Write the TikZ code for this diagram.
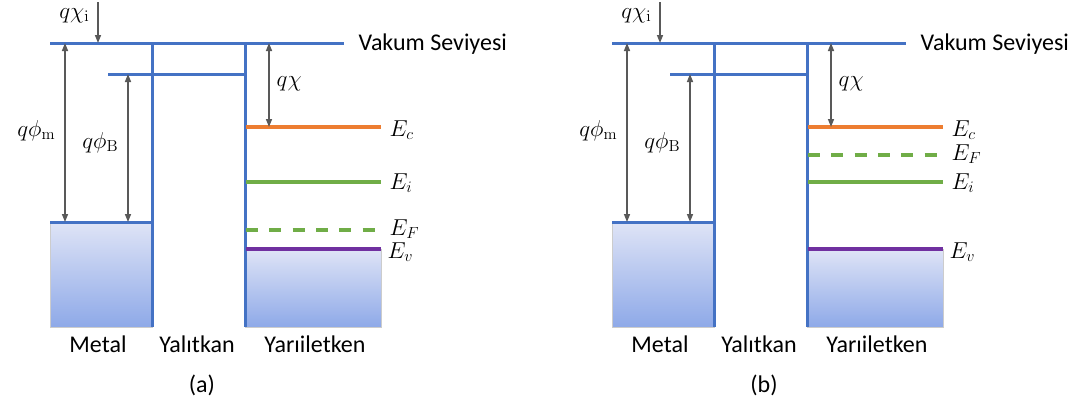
\documentclass[tikz,border=0pt]{standalone}
\usepackage[no-math]{fontspec}
\setmainfont{Carlito}
\usepackage{tikz}
\usetikzlibrary{arrows.meta}
\definecolor{bantmavi}{HTML}{4472C4}
\definecolor{bantturuncu}{HTML}{ED7D31}
\definecolor{bantyesil}{HTML}{70AD47}
\definecolor{bantmor}{HTML}{7030A0}
\definecolor{okgri}{HTML}{595959}
\definecolor{dolguust}{HTML}{DFE4F6}
\definecolor{dolgualt}{HTML}{8EA9E8}

\begin{document}
\begin{tikzpicture}[
    x=0.75pt, y=-0.75pt,
    font=\fontsize{18}{21}\selectfont,
    seviye/.style={line width=2.25pt, bantmavi},
    bant/.style={line width=2.4pt},
    ok/.style={{Triangle[length=6pt,width=4.5pt]}-{Triangle[length=6pt,width=4.5pt]},
               line width=1.1pt, okgri},
    tekok/.style={-{Triangle[length=6pt,width=4.5pt]}, line width=1.1pt, okgri},
    kutu/.style={draw=gray!40, line width=0.6pt, top color=dolguust, bottom color=dolgualt}
  ]
    \useasboundingbox (0,0) rectangle (1081,408);
    \foreach \dx/\ef/\p in {0/230/a, 562/155/b}{
      % dolu bantlar
      \path[kutu] (\dx+50,222) rectangle (\dx+152,327);
      \path[kutu] (\dx+245,249) rectangle (\dx+381,327);
      % vakum, yalitkan ve metal seviyeleri
      \draw[seviye] (\dx+50,43) -- (\dx+344,43);
      \draw[seviye] (\dx+152,43) -- (\dx+152,327);
      \draw[seviye] (\dx+245,43) -- (\dx+245,327);
      \draw[seviye] (\dx+108,74) -- (\dx+245,74);
      \draw[seviye] (\dx+50,222) -- (\dx+152,222);
      % yariiletken seviyeleri
      \draw[bant, bantturuncu] (\dx+246,127) -- (\dx+381,127);
      \draw[bant, bantyesil] (\dx+246,182) -- (\dx+381,182);
      \draw[bant, bantyesil, dash pattern=on 9pt off 8.5pt] (\dx+246,\ef) -- (\dx+376,\ef);
      \draw[bant, bantmor] (\dx+246,249) -- (\dx+381,249);

      \coordinate (\p-xit) at (\dx+98,2);
      \coordinate (\p-xia) at (\dx+98,43);
      \coordinate (\p-fmt) at (\dx+65,43);
      \coordinate (\p-fma) at (\dx+65,222);
      \coordinate (\p-fbt) at (\dx+128,74);
      \coordinate (\p-fba) at (\dx+128,222);
      \coordinate (\p-xt)  at (\dx+269,43);
      \coordinate (\p-xa)  at (\dx+269,127);
      \draw[tekok] (\p-xit) -- (\p-xia);
      \draw[ok] (\p-fmt) -- (\p-fma);
      \draw[ok] (\p-fbt) -- (\p-fba);
      \draw[ok] (\p-xt) -- (\p-xa);

      \node[anchor=base east] (\p-lxi) at (\dx+94,18) {$q\chi_{\mathrm{i}}$};
      \node[anchor=base east] (\p-lfm) at (\dx+60,136) {$q\phi_{\mathrm{m}}$};
      \node[anchor=base east] (\p-lfb) at (\dx+123,148) {$q\phi_{\mathrm{B}}$};
      \node[anchor=base west] (\p-lx)  at (\dx+272,86) {$q\chi$};
      \node[anchor=base west] (\p-vak) at (\dx+354,50) {Vakum Seviyesi};
      \node[anchor=base west] (\p-ec) at (\dx+385,136) {$E_c$};
      \node[anchor=base west] (\p-ei) at (\dx+385,189) {$E_i$};
      \node[anchor=base west] (\p-ef) at (\dx+385,\ef+5) {$E_F$};
      \node[anchor=base west] (\p-ev) at (\dx+383,258) {$E_v$};
      \node[anchor=base] (\p-met) at (\dx+98,352) {Metal};
      \node[anchor=base] (\p-yal) at (\dx+197,352) {Yalıtkan};
      \node[anchor=base] (\p-yar) at (\dx+315,352) {Yarıiletken};
      \node[anchor=base] (\p-tag) at (\dx+202,392) {(\p)};
    }
  \end{tikzpicture}
\end{document}
